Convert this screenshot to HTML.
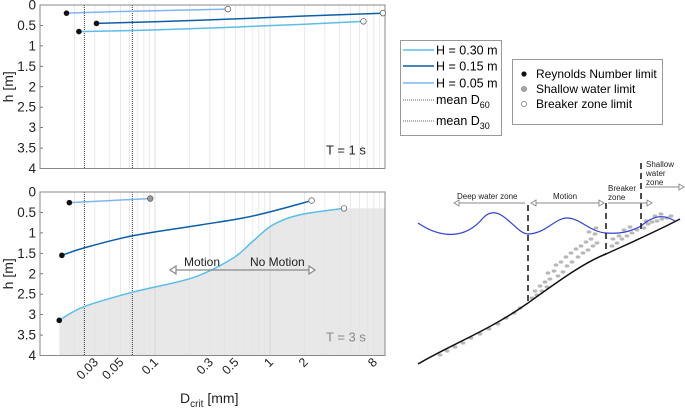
<!DOCTYPE html>
<html><head><meta charset="utf-8"><style>
html,body{margin:0;padding:0;background:#fff;}
svg{display:block;font-family:"Liberation Sans",sans-serif;}
</style></head><body>
<svg id="root" width="685" height="412" viewBox="0 0 685 412" xmlns="http://www.w3.org/2000/svg">
<g id="plots"></g>
<g id="legend1">
  <rect x="400.5" y="40.5" width="101" height="95" fill="#fff" stroke="#999"/>
  <line x1="403" y1="50" x2="434" y2="50" stroke="#5bbde8" stroke-width="1.5"/>
  <text x="436" y="54.5" font-size="12.5">H = 0.30 m</text>
  <line x1="403" y1="66" x2="434" y2="66" stroke="#0b5fa8" stroke-width="1.5"/>
  <text x="436" y="70.5" font-size="12.5">H = 0.15 m</text>
  <line x1="403" y1="83" x2="434" y2="83" stroke="#7fb5f0" stroke-width="1.5"/>
  <text x="436" y="87.5" font-size="12.5">H = 0.05 m</text>
  <line x1="403" y1="100" x2="434" y2="100" stroke="#333" stroke-width="0.8" stroke-dasharray="1,1"/>
  <text x="436" y="104" font-size="12.5">mean D<tspan font-size="9" dy="4">60</tspan></text>
  <line x1="403" y1="121" x2="434" y2="121" stroke="#333" stroke-width="0.8" stroke-dasharray="1,1"/>
  <text x="436" y="125" font-size="12.5">mean D<tspan font-size="9" dy="4">30</tspan></text>
</g>
<g id="legend2">
  <rect x="512.5" y="59.5" width="150" height="65" fill="#fff" stroke="#999"/>
  <circle cx="524" cy="74" r="2.6" fill="#111"/>
  <text x="536" y="78" font-size="12">Reynolds Number limit</text>
  <circle cx="524" cy="89" r="2.6" fill="#aaa" stroke="#777" stroke-width="0.6"/>
  <text x="536" y="93" font-size="12">Shallow water limit</text>
  <circle cx="524" cy="104" r="2.6" fill="#fff" stroke="#555" stroke-width="0.6"/>
  <text x="536" y="108" font-size="12">Breaker zone limit</text>
</g>
<g id="diagram">
  <g id="dots"></g>
  <path d="M418,364 C450,345 490,330 528,303 C560,280 585,262 606,254 C630,243 655,232 680,219" fill="none" stroke="#111" stroke-width="1.5"/>
  <path d="M418,223 C440,238 465,240 483,218 C500,200 515,234 528,234 C545,234 555,218 567,218 C580,218 590,232 606,233 C620,234 630,232 641,226 C655,214 665,215 675,221" fill="none" stroke="#3344cc" stroke-width="1.2"/>
  <line x1="528" y1="205" x2="528" y2="303" stroke="#111" stroke-width="1.5" stroke-dasharray="6,4"/>
  <line x1="606" y1="203" x2="606" y2="254" stroke="#111" stroke-width="1.5" stroke-dasharray="6,4"/>
  <line x1="641" y1="163" x2="641" y2="232" stroke="#111" stroke-width="1.5" stroke-dasharray="6,4"/>
  <g stroke="#888" fill="#fff" stroke-width="0.9">
    <line x1="455" y1="203" x2="525" y2="203"/>
    <path d="M454,203 l5,-3 v6 z"/>
    <line x1="532" y1="203" x2="603" y2="203"/>
    <path d="M531,203 l5,-3 v6 z M604,203 l-5,-3 v6 z"/>
    <line x1="608" y1="203" x2="650" y2="203"/>
    <path d="M652,203 l-5,-3 v6 z"/>
    <line x1="645" y1="187" x2="682" y2="187"/>
    <path d="M684,187 l-5,-3 v6 z"/>
  </g>
  <g font-size="8" fill="#222">
    <text x="457" y="199">Deep water zone</text>
    <text x="553" y="199">Motion</text>
    <text x="608" y="191"><tspan x="608">Breaker</tspan><tspan x="608" dy="9">zone</tspan></text>
    <text x="646" y="167"><tspan x="646">Shallow</tspan><tspan x="646" dy="9">water</tspan><tspan x="646" dy="9">zone</tspan></text>
  </g>
</g>
<script>
// ---- chart data ----
const xTicks = [0.03, 0.05, 0.1, 0.3, 0.5, 1, 2, 8];
const xTickLabels = ["0.03", "0.05", "0.1", "0.3", "0.5", "1", "2", "8"];
const yTicks = [0, 0.5, 1, 1.5, 2, 2.5, 3, 3.5, 4];
const yTickLabels = ["0", "0.5", "1", "1.5", "2", "2.5", "3", "3.5", "4"];
const meanD = [0.0243, 0.0635];
// T = 1 s
const t1_h030_D = [0.0218, 0.1, 0.5, 2, 6.5];
const t1_h030_h = [0.65, 0.61, 0.54, 0.47, 0.40];
const t1_h015_D = [0.031, 0.1, 0.5, 2, 9.6];
const t1_h015_h = [0.45, 0.41, 0.34, 0.27, 0.20];
const t1_h005_D = [0.017, 0.05, 0.43];
const t1_h005_h = [0.20, 0.16, 0.10];
// T = 3 s
const t3_h030_D = [0.0147, 0.024, 0.064, 0.212, 0.47, 0.70, 1.05, 1.8, 4.4];
const t3_h030_h = [3.14, 2.81, 2.45, 2.10, 1.63, 1.22, 0.81, 0.56, 0.40];
const t3_h015_D = [0.0155, 0.024, 0.064, 0.244, 0.575, 1.05, 2.3];
const t3_h015_h = [1.55, 1.37, 1.07, 0.81, 0.64, 0.47, 0.21];
const t3_h005_D = [0.018, 0.091];
const t3_h005_h = [0.26, 0.16];
const noMotionLevel = 0.40;

const NS = "http://www.w3.org/2000/svg";
const X0 = 40, X1 = 385;
function xs(d) { return X0 + (Math.log10(d) + 2) / 3 * (X1 - X0); }
function mk(tag, attrs, parent) {
  const e = document.createElementNS(NS, tag);
  for (const k in attrs) e.setAttribute(k, attrs[k]);
  parent.appendChild(e); return e;
}
function smooth(pts) {
  let d = "M" + pts[0][0] + "," + pts[0][1];
  for (let i = 0; i < pts.length - 1; i++) {
    const p0 = pts[i - 1] || pts[i], p1 = pts[i], p2 = pts[i + 1], p3 = pts[i + 2] || p2;
    const c1 = [p1[0] + (p2[0] - p0[0]) / 6, p1[1] + (p2[1] - p0[1]) / 6];
    const c2 = [p2[0] - (p3[0] - p1[0]) / 6, p2[1] - (p3[1] - p1[1]) / 6];
    d += " C" + c1 + " " + c2 + " " + p2;
  }
  return d;
}
const plots = document.getElementById("plots");
function panel(top, bottom, name, series, label, labelColor, shade) {
  const g = mk("g", {}, plots);
  
  
  const ys = h => top + h / 4 * (bottom - top);
  if (shade) {
    const s = shade;
    const pts = s.D.map((d, i) => [xs(d), ys(s.h[i])]);
    let dd = smooth(pts) + " L" + X1 + "," + ys(noMotionLevel) + " L" + X1 + "," + bottom + " L" + pts[0][0] + "," + bottom + " Z";
    const a = mk("path", { d: dd, fill: "#e8e8e8" }, g);
    
    
  }
  for (let dec = -2; dec < 1; dec++) for (let m = 1; m <= 9; m++) {
    const v = m * Math.pow(10, dec); const x = xs(v);
    if (x <= X0 + 0.5 || x >= X1 - 0.5) continue;
    const l = mk("line", { x1: x, x2: x, y1: top, y2: bottom, stroke: m === 1 ? "#d0d0d0" : "#e2e2e2", "stroke-width": 0.7 }, g);
    
    
  }
  yTicks.forEach((t, i) => {
    const y = ys(t);
    const tl = mk("line", { x1: X0, x2: X0 + 3, y1: y, y2: y, stroke: "#444", "stroke-width": 0.7 }, g);
    
    
    const tx = mk("text", { x: 36, y: y + 4.5, "font-size": 13.5, "text-anchor": "end", fill: "#222" }, g);
    tx.textContent = yTickLabels[i];
    
    
  });
  meanD.forEach((d, i) => {
    const l = mk("line", { x1: xs(d), x2: xs(d), y1: top, y2: bottom, stroke: "#222", "stroke-width": 0.9, "stroke-dasharray": "1,1" }, g);
    
    
  });
  const box = mk("rect", { x: X0, y: top, width: X1 - X0, height: bottom - top, fill: "none", stroke: "#888", "stroke-width": 1 }, g);
  
  
  series.forEach(s => {
    const pts = s.D.map((d, i) => [xs(d), ys(s.h[i])]);
    const p = mk("path", { d: smooth(pts), fill: "none", stroke: s.color, "stroke-width": 1.5 }, g);
    
    
    const a = pts[0], b = pts[pts.length - 1];
    const c1 = mk("circle", { cx: a[0], cy: a[1], r: 2.8, fill: "#111" }, g);
    
    
    const c2 = mk("circle", { cx: b[0], cy: b[1], r: 2.8, fill: s.endFill, stroke: "#555", "stroke-width": 0.7 }, g);
    
    
  });
  const lt = mk("text", { x: 326, y: bottom - 14, "font-size": 13, fill: labelColor }, g);
  lt.textContent = label;
  
  
  const yt = mk("text", { x: 0, y: 0, "font-size": 14, "text-anchor": "middle", fill: "#222", transform: "translate(13," + ((top + bottom) / 2) + ") rotate(-90)" }, g);
  yt.textContent = "h [m]";
  
  
  return ys;
}
panel(5, 168.5, "plot-t1", [
  { D: t1_h030_D, h: t1_h030_h, color: "#5bbde8", name: "line-h030-t1", endFill: "#fff" },
  { D: t1_h015_D, h: t1_h015_h, color: "#0b5fa8", name: "line-h015-t1", endFill: "#fff" },
  { D: t1_h005_D, h: t1_h005_h, color: "#7fb5f0", name: "line-h005-t1", endFill: "#fff" }
], "T = 1 s", "#222", null);
panel(192, 355.5, "plot-t3", [
  { D: t3_h030_D, h: t3_h030_h, color: "#5bbde8", name: "line-h030-t3", endFill: "#fff" },
  { D: t3_h015_D, h: t3_h015_h, color: "#0b5fa8", name: "line-h015-t3", endFill: "#fff" },
  { D: t3_h005_D, h: t3_h005_h, color: "#7fb5f0", name: "line-h005-t3", endFill: "#999" }
], "T = 3 s", "#888", { D: t3_h030_D, h: t3_h030_h });
xTicks.forEach((t, i) => {
  const x = xs(t);
  const tx = mk("text", { x: 0, y: 0, "font-size": 12.5, "text-anchor": "end", fill: "#222", transform: "translate(" + (x + 4) + ",363) rotate(-45)" }, plots);
  tx.textContent = xTickLabels[i];
  
  
});
const xt = mk("text", { x: 180, y: 403, "font-size": 14, fill: "#222" }, plots);


const ts1 = mk("tspan", {}, xt); ts1.textContent = "D";
const ts2 = mk("tspan", { "font-size": 10, dy: 4 }, xt); ts2.textContent = "crit";
const ts3 = mk("tspan", { dy: -4 }, xt); ts3.textContent = " [mm]";
// motion arrow
const ay = 270;
const ag = mk("g", { stroke: "#888", fill: "#fff", "stroke-width": 1.2 }, plots);


mk("line", { x1: 175, x2: 310, y1: ay, y2: ay }, ag);
mk("path", { d: "M170," + ay + " l6,-4 v8 z M315," + ay + " l-6,-4 v8 z" }, ag);
const m1 = mk("text", { x: 184, y: 266, "font-size": 12, fill: "#222" }, plots);
m1.textContent = "Motion";


const m2 = mk("text", { x: 250, y: 266, "font-size": 12, fill: "#222" }, plots);
m2.textContent = "No Motion";


// sediment dots on diagram
const dots = document.getElementById("dots");
const dotPos = [[440,355],[447,351],[455,347],[463,343],[471,338],[480,334],[489,329],[498,324],[506,318],[514,313],[520,308],
[532,298],[537,295],[542,291],[547,287],[535,291],[540,286],[545,282],[550,279],[548,273],[554,271],[558,276],[563,272],[556,265],[561,262],[567,266],[572,262],[566,257],[571,253],[578,257],[583,253],[576,249],[581,246],[588,250],[593,246],[586,242],[591,239],[597,243],[595,234],[596,228],[589,232],
[612,246],[617,243],[622,239],[613,239],[619,236],[627,236],[632,233],[624,230],[630,227],[637,230],[644,228],[648,224],[652,222],[657,221],[662,219],[667,218],[671,216],[646,221],[655,216],[661,214]];
dotPos.forEach(p => {
  const c = mk("ellipse", { cx: p[0], cy: p[1], rx: 2.4, ry: 1.6, fill: "#b8b8b8" }, dots);
  
  
});
</script>
</svg>
</body></html>
